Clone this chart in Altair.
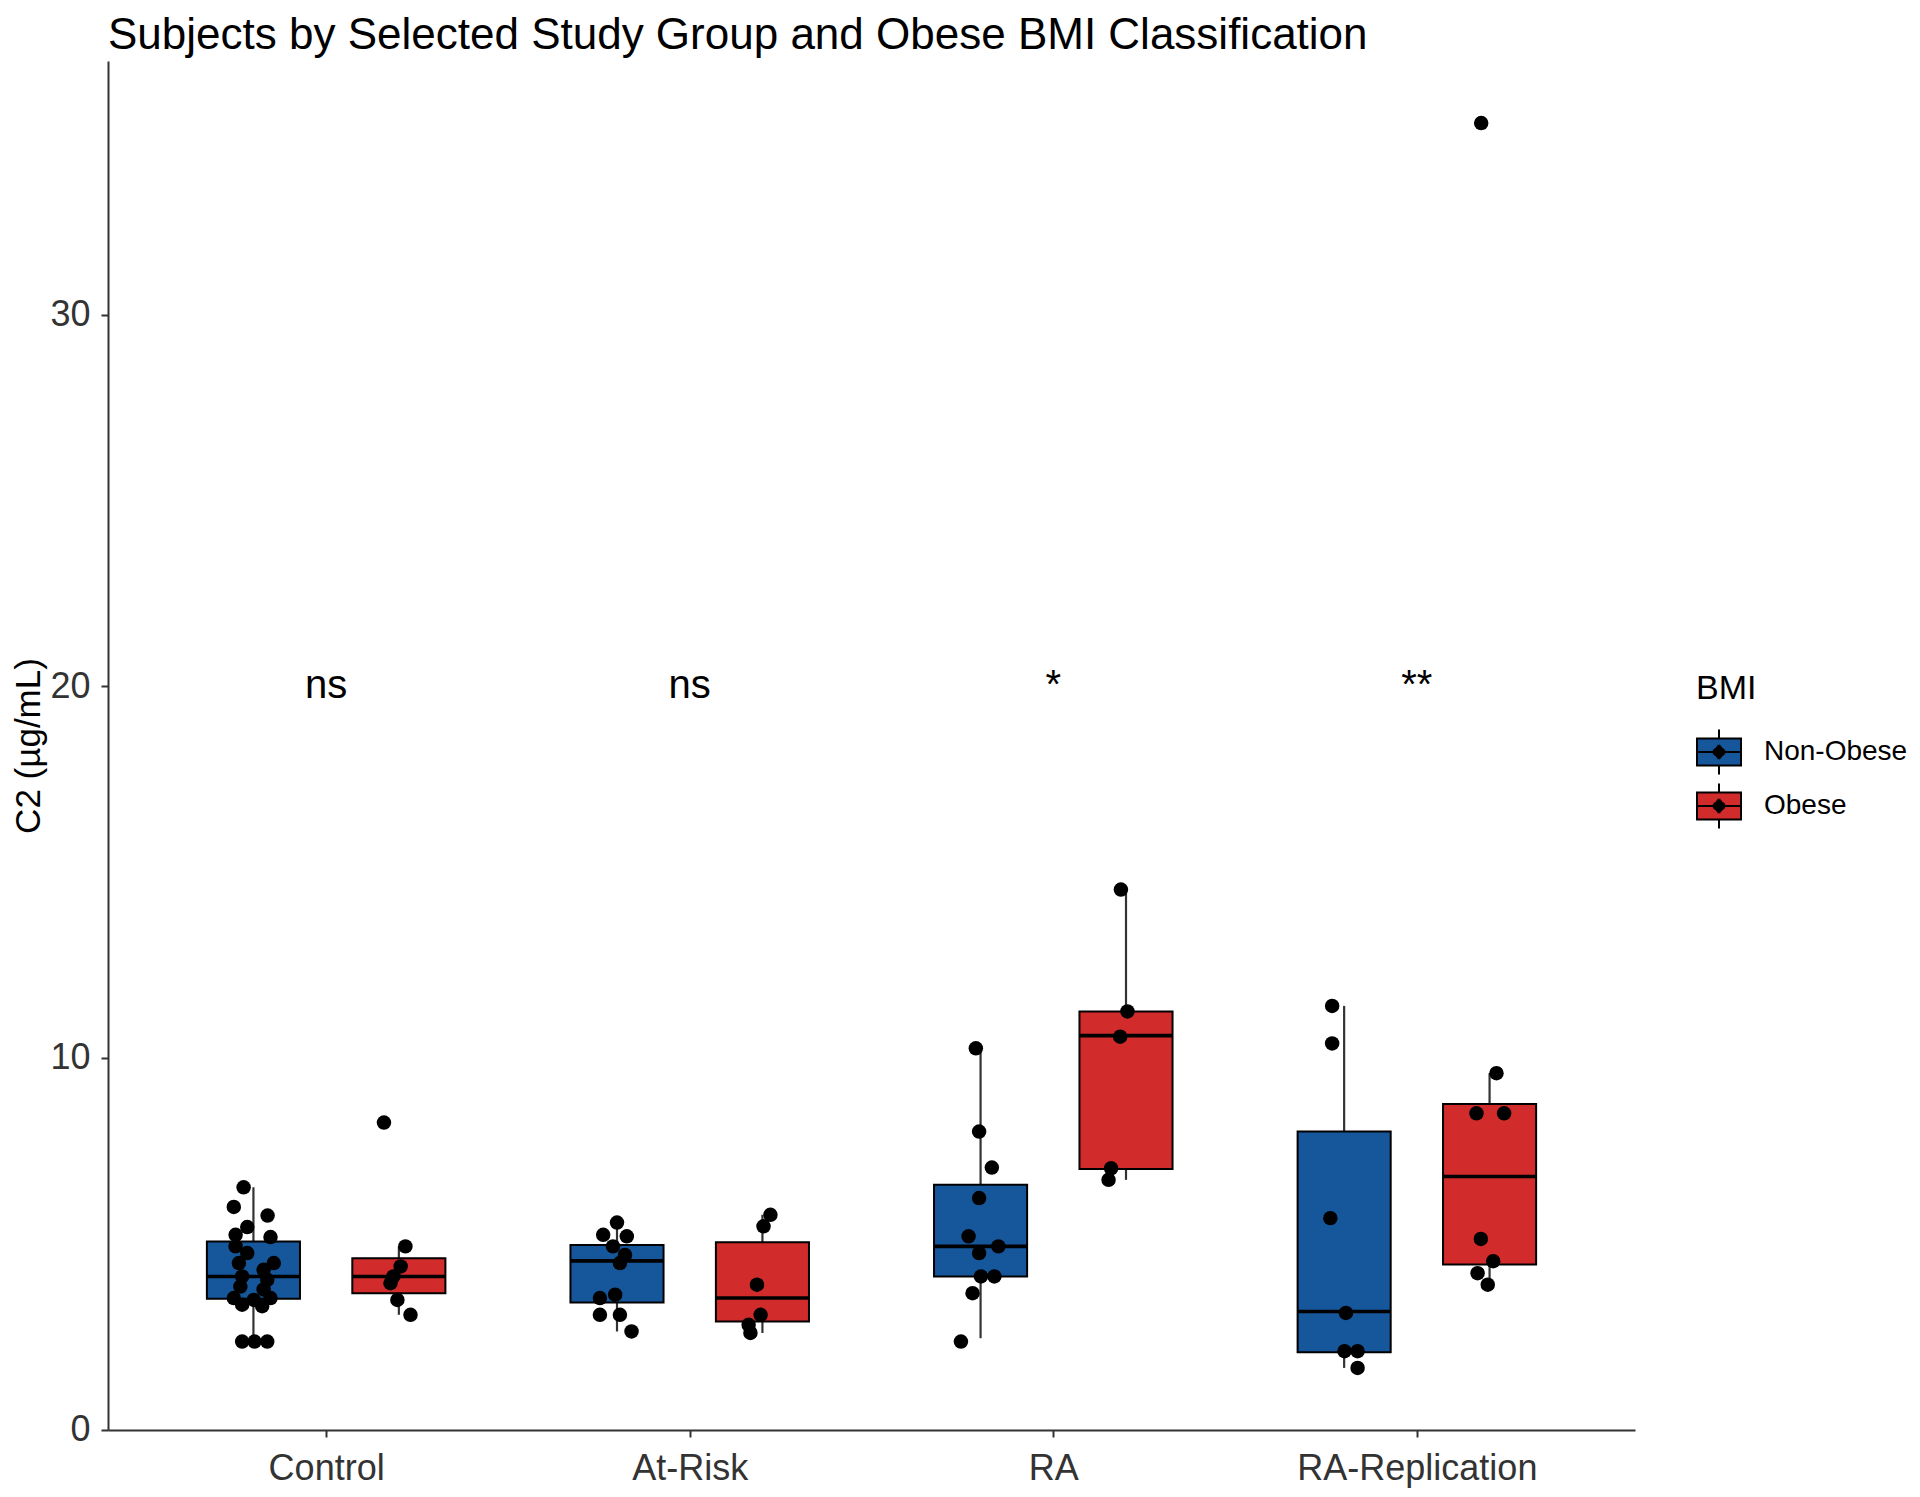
import json
import altair as alt
import pandas as pd

# ---------------- data ----------------
groups = ["Control", "At-Risk", "RA", "RA-Replication"]
bmi_levels = ["Non-Obese", "Obese"]

# box-plot summaries, one entry per (group, BMI) in this order
box_group = ["Control", "Control", "At-Risk", "At-Risk", "RA", "RA",
             "RA-Replication", "RA-Replication"]
box_bmi = ["Non-Obese", "Obese"] * 4
q1 = [3.52, 3.67, 3.42, 2.91, 4.12, 7.01, 2.08, 4.44]
median = [4.12, 4.12, 4.54, 3.54, 4.93, 10.60, 3.18, 6.81]
q3 = [5.06, 4.61, 4.97, 5.04, 6.59, 11.25, 8.02, 8.76]
whisker_lo = [2.37, 3.09, 2.64, 2.60, 2.46, 6.72, 1.66, 3.90]
whisker_hi = [6.52, 4.93, 5.57, 5.78, 10.26, 14.53, 11.40, 9.59]

# individual subjects (value, horizontal jitter in group units)
control_nonobese = [6.52, 5.99, 5.76, 5.45, 5.24, 5.18, 4.93, 4.75, 4.48, 4.48, 4.30, 4.12,
                    4.03, 3.85, 3.77, 3.54, 3.49, 3.54, 3.36, 3.32, 2.37, 2.37, 2.37]
control_nonobese_jit = [-0.027, -0.054, 0.039, -0.017, -0.049, 0.047, -0.049, -0.017, -0.040,
                        0.056, 0.028, -0.031, 0.038, -0.036, 0.028, -0.054, 0.001, 0.047,
                        -0.031, 0.024, -0.031, 0.003, 0.038]
control_obese = [8.26, 4.93, 4.39, 4.12, 3.94, 3.49, 3.09]
control_obese_jit = [-0.041, 0.018, 0.005, -0.015, -0.023, -0.004, 0.032]
atrisk_nonobese = [5.57, 5.24, 5.20, 4.93, 4.70, 4.48, 3.54, 3.63, 3.09, 3.09, 2.64]
atrisk_nonobese_jit = [0.0, -0.038, 0.027, -0.011, 0.022, 0.008, -0.047, -0.005, -0.047, 0.008, 0.040]
atrisk_obese = [5.78, 5.47, 3.90, 3.09, 2.82, 2.60]
atrisk_obese_jit = [0.022, 0.003, -0.015, -0.005, -0.038, -0.033]
ra_nonobese = [10.26, 8.02, 7.05, 6.23, 5.20, 4.93, 4.75, 4.12, 4.12, 3.67, 2.37]
ra_nonobese_jit = [-0.013, -0.004, 0.031, -0.004, -0.033, 0.049, -0.004, 0.001, 0.038, -0.022, -0.054]
ra_obese = [14.53, 11.25, 10.57, 7.03, 6.72]
ra_obese_jit = [-0.014, 0.004, -0.016, -0.041, -0.048]
rarep_nonobese = [11.40, 10.39, 5.69, 3.14, 2.11, 2.11, 1.66]
rarep_nonobese_jit = [-0.033, -0.033, -0.038, 0.005, 0.001, 0.037, 0.037]
rarep_obese = [35.15, 9.59, 8.51, 8.51, 5.13, 4.53, 4.21, 3.90]
rarep_obese_jit = [-0.023, 0.019, -0.036, 0.040, -0.024, 0.010, -0.033, -0.005]

sig_labels = ["ns", "ns", "*", "**"]
sig_y = 20

# ---------------- styling constants ----------------
BLUE = "#16579C"
RED = "#D22B2B"
DODGE = 0.2
HALF = 0.128
FONT = "Liberation Sans"

def gx(group, bmi):
    return groups.index(group) + 1 + (-DODGE if bmi == "Non-Obese" else DODGE)

box_df = pd.DataFrame({"group": box_group, "bmi": box_bmi, "q1": q1, "med": median,
                       "q3": q3, "wlo": whisker_lo, "whi": whisker_hi})
box_df["xc"] = [gx(g, b) for g, b in zip(box_group, box_bmi)]
box_df["xl"] = box_df["xc"] - HALF
box_df["xr"] = box_df["xc"] + HALF

pt_sets = [
    ("Control", "Non-Obese", control_nonobese, control_nonobese_jit),
    ("Control", "Obese", control_obese, control_obese_jit),
    ("At-Risk", "Non-Obese", atrisk_nonobese, atrisk_nonobese_jit),
    ("At-Risk", "Obese", atrisk_obese, atrisk_obese_jit),
    ("RA", "Non-Obese", ra_nonobese, ra_nonobese_jit),
    ("RA", "Obese", ra_obese, ra_obese_jit),
    ("RA-Replication", "Non-Obese", rarep_nonobese, rarep_nonobese_jit),
    ("RA-Replication", "Obese", rarep_obese, rarep_obese_jit),
]
rows = []
for g, b, vals, jit in pt_sets:
    for v, j in zip(vals, jit):
        rows.append({"group": g, "bmi": b, "value": v, "xp": gx(g, b) + j})
pt_df = pd.DataFrame(rows)

sig_df = pd.DataFrame({"group": groups, "label": sig_labels,
                       "xg": [i + 1 for i in range(len(groups))],
                       "yv": [sig_y] * len(groups)})

# ---------------- scales & axes ----------------
x_scale = alt.Scale(domain=[0.4, 4.6], nice=False, zero=False)
y_scale = alt.Scale(domain=[-0.01, 36.82], nice=False, zero=False)
label_expr = json.dumps(groups) + "[datum.value - 1]"
x_axis = alt.Axis(values=[1, 2, 3, 4], labelExpr=label_expr, labelPadding=14,
                  labelAngle=0, labelBaseline="top", labelLimit=0)
y_axis = alt.Axis(values=[0, 10, 20, 30], labelPadding=11, titlePadding=3)
YTITLE = "C2 (µg/mL)"

def X(field):
    return alt.X(field, type="quantitative", scale=x_scale, axis=x_axis, title=None)

def Y(field):
    return alt.Y(field, type="quantitative", scale=y_scale, axis=y_axis, title=YTITLE)

# legend symbol: box with whiskers, median line and a solid diamond
sym = "M-1,-0.61L1,-0.61L1,0.61L-1,0.61Z M0,-0.61L0,-1.02M0,0.61L0,1.02 M-1,0L1,0"
for k in range(-4, 5):
    yy = 0.07 * k
    hh = 0.35 - abs(yy)
    sym += f" M{-hh:.3f},{yy:.3f}L{hh:.3f},{yy:.3f}"

legend = alt.Legend(title="BMI", orient="none", legendX=1588, legendY=611,
                    symbolType=sym, symbolSize=1936, symbolStrokeColor="black",
                    symbolStrokeWidth=2, symbolOpacity=1,
                    labelFontSize=28, titleFontSize=34, titleFontWeight="normal",
                    labelOffset=22, rowPadding=0, titlePadding=23, padding=0,
                    labelLimit=0,
                    labelFont=FONT, titleFont=FONT, labelColor="black", titleColor="black")

whisk_up = alt.Chart(box_df).mark_rule(color="#333333", strokeWidth=2.2).encode(
    x=X("xc"), y=Y("q3"), y2="whi")
whisk_dn = alt.Chart(box_df).mark_rule(color="#333333", strokeWidth=2.2).encode(
    x=X("xc"), y=Y("wlo"), y2="q1")
boxes = alt.Chart(box_df).mark_bar(stroke="black", strokeWidth=2, opacity=1).encode(
    x=X("xl"), x2="xr", y=Y("q1"), y2="q3",
    fill=alt.Fill("bmi:N", scale=alt.Scale(domain=bmi_levels, range=[BLUE, RED]), legend=legend))
meds = alt.Chart(box_df).mark_rule(color="black", strokeWidth=3.6).encode(
    x=X("xl"), x2="xr", y=Y("med"))
points = alt.Chart(pt_df).mark_circle(color="black", size=210, opacity=1).encode(
    x=X("xp"), y=Y("value"))
sig = alt.Chart(sig_df).mark_text(fontSize=40, font=FONT, color="black",
                                  align="center", baseline="middle").encode(
    x=X("xg"), y=Y("yv"), text="label:N")

chart = alt.layer(whisk_up, whisk_dn, boxes, meds, points, sig).properties(
    width=1527, height=1369,
    autosize=alt.AutoSizeParams(type="none"),
    padding={"left": 100, "top": 53, "right": 277, "bottom": 59},
    title=alt.TitleParams(text="Subjects by Selected Study Group and Obese BMI Classification",
                          anchor="start", frame="group", fontSize=44, font=FONT,
                          fontWeight="normal", color="black", offset=3),
).configure_axis(
    grid=False, domainColor="#333333", domainWidth=2, tickColor="#333333", tickWidth=2,
    tickSize=7, labelFont=FONT, labelFontSize=36, labelColor="#333333",
    titleFont=FONT, titleFontSize=35, titleColor="black", titleFontWeight="normal",
).configure_view(stroke=None)

chart.save("out.html", embed_options={"renderer": "svg", "actions": False})
